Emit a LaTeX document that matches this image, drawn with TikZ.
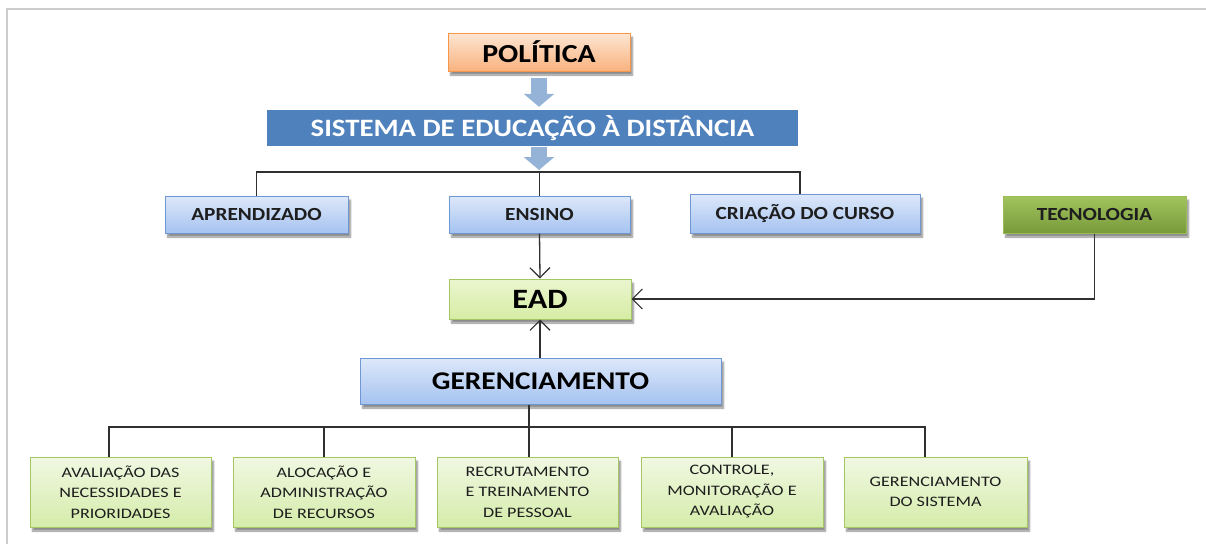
\documentclass[tikz,border=0pt]{standalone}
\usepackage{fontspec}
\newfontfamily\cf[FakeStretch=1.15]{Carlito}
\newfontfamily\cs[FakeStretch=1.25]{Carlito}
\usetikzlibrary{arrows.meta,calc,shadows,shadows.blur}
\definecolor{framegray}{HTML}{CCCCCC}
\definecolor{arrblue}{HTML}{95B3D7}
\definecolor{sisblue}{HTML}{4F81BD}
\definecolor{bluetop}{HTML}{DDE8FA}
\definecolor{bluebot}{HTML}{A6C3F0}
\definecolor{blueedge}{HTML}{6E97D3}
\definecolor{gtop}{HTML}{F0F8E2}
\definecolor{gbot}{HTML}{D5ECAA}
\definecolor{gedge}{HTML}{A5C763}
\definecolor{eadtop}{HTML}{EAF6CF}
\definecolor{eadbot}{HTML}{D6EDA4}
\definecolor{tectop}{HTML}{A2C45E}
\definecolor{tecbot}{HTML}{789A3A}
\definecolor{tecedge}{HTML}{9BBB59}
\definecolor{otop}{HTML}{FDE6D4}
\definecolor{obot}{HTML}{F9B27E}
\definecolor{oedge}{HTML}{F79646}
\definecolor{txt}{HTML}{1E1E1E}
\definecolor{linec}{HTML}{303030}
\tikzset{
  shad/.style={blur shadow={shadow xshift=2.5pt, shadow yshift=-4pt, shadow blur steps=6, shadow opacity=45}},
  box/.style={rectangle, inner sep=0pt, line width=1pt, align=center, text=txt, shad},
  bluebox/.style={box, top color=bluetop, bottom color=bluebot, draw=blueedge},
  greenbox/.style={box, top color=gtop, bottom color=gbot, draw=gedge,
     minimum height=70pt, font=\cs\fontsize{14.5}{20.5}\selectfont, text=txt},
  medtext/.style={font=\cf\bfseries\fontsize{18.5}{22}\selectfont},
  conn/.style={draw=linec, line width=1.3pt},
  openarr/.style={conn, -{Straight Barb[length=10pt,width=20pt,line width=1.2pt]}},
  blockarr/.style={draw=arrblue, line width=16pt, -{Triangle[width=30pt,length=13pt]}}
}
\begin{document}
\begin{tikzpicture}[x=1pt,y=-1pt]
\useasboundingbox (0,0) rectangle (1206,544);
\draw[framegray, line width=2pt] (7,544) -- (7,9) -- (1206,9);

\node[box, top color=otop, bottom color=obot, draw=oedge, minimum width=182pt, minimum height=38pt,
  font=\cf\bfseries\fontsize{26}{28}\selectfont, text=black] (pol) at (539,52) {POLÍTICA};
\node[rectangle, inner sep=0pt, fill=sisblue, minimum width=531pt, minimum height=36pt,
  font=\cf\bfseries\fontsize{25}{28}\selectfont, text=white] (sis) at (532.5,128) {SISTEMA DE EDUCAÇÃO À DISTÂNCIA};

\node[bluebox, medtext, minimum width=183pt, minimum height=37pt] (apr) at (256.5,214.5) {APRENDIZADO};
\node[bluebox, medtext, minimum width=181pt, minimum height=37pt] (ens) at (539.5,214.5) {ENSINO};
\node[bluebox, medtext, minimum width=230pt, minimum height=39pt] (cri) at (805,213.5) {CRIAÇÃO DO CURSO};
\node[box, medtext, top color=tectop, bottom color=tecbot, draw=tecedge, minimum width=183pt, minimum height=37pt] (tec) at (1094.5,214.5) {TECNOLOGIA};

\node[box, top color=eadtop, bottom color=eadbot, draw=gedge, minimum width=182pt, minimum height=40pt,
  font=\cf\bfseries\fontsize{28}{30}\selectfont, text=black] (ead) at (540,299) {EAD};
\node[bluebox, minimum width=361pt, minimum height=46pt,
  font=\cf\bfseries\fontsize{25.5}{28}\selectfont, text=black] (ger) at (540.5,381) {GERENCIAMENTO};

\node[greenbox, minimum width=181pt] (g1) at (120.5,492) {AVALIAÇÃO DAS\\NECESSIDADES E\\PRIORIDADES};
\node[greenbox, minimum width=182pt] (g2) at (324,492) {ALOCAÇÃO E\\ADMINISTRAÇÃO\\DE RECURSOS};
\node[greenbox, minimum width=181pt] (g3) at (527.5,492) {RECRUTAMENTO\\E TREINAMENTO\\DE PESSOAL};
\node[greenbox, minimum width=182pt] (g4) at (732,492) {CONTROLE,\\MONITORAÇÃO E\\AVALIAÇÃO};
\node[greenbox, minimum width=183pt] (g5) at (935.5,492) {GERENCIAMENTO\\DO SISTEMA};

% block arrows
\coordinate (top1) at ($(pol.south)+(0,6)$);
\coordinate (bot1) at ($(pol.south |- sis.north)+(0,-3)$);
\draw[blockarr] (top1) -- (bot1);
\coordinate (br) at (539,172);
\coordinate (top2) at ($(pol.south |- sis.south)+(0,1)$);
\draw[blockarr] (top2) -- ($(br)+(0,-2)$);

% top bracket
\coordinate (crix) at ($(cri.north)+(-5,0)$);
\draw[conn] (apr.north) |- (br) -| (crix);
\draw[conn] (ens.north) -- (ens.north |- br);

% arrows to EAD
\draw[openarr] (ens.south) -- (ead.north);
\draw[openarr] (tec.south) |- (ead.east);
\draw[openarr] (ger.north -| ead) -- (ead.south);

% bottom bracket
\coordinate (bb) at (529,427);
\coordinate (g1x) at ($(g1.north)+(-11.5,0)$);
\coordinate (g5x) at ($(g5.north)+(-10.5,0)$);
\draw[conn] (ger.south -| bb) -- (bb);
\draw[conn] (g1x) |- (bb) -| (g5x);
\draw[conn] (g2.north) -- (g2.north |- bb);
\draw[conn] ($(g3.north)+(1.5,0)$) -- ($(g3.north |- bb)+(1.5,0)$);
\draw[conn] (g4.north) -- (g4.north |- bb);
\end{tikzpicture}
\end{document}
